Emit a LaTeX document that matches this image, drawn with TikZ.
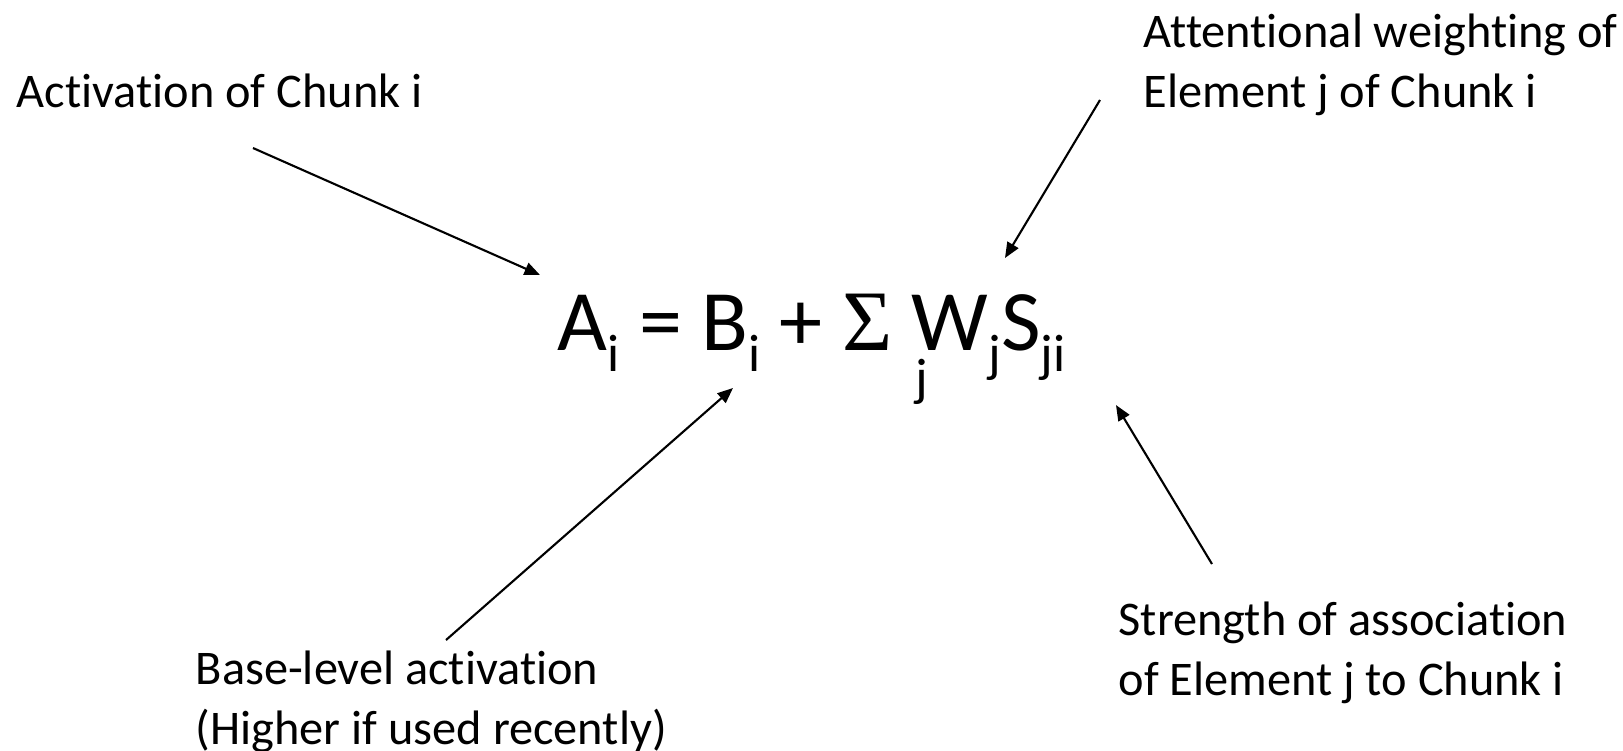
\documentclass[tikz,border=0pt]{standalone}
\usepackage{fontspec}
\setmainfont{Carlito}[Ligatures=NoCommon]
\newfontfamily\sigmafont{Liberation Serif}
\usetikzlibrary{arrows.meta}
% subscripts of the formula
\newcommand{\eqsub}[1]{\raisebox{-6pt}{\fontsize{15}{15}\selectfont #1}}
\newcommand{\eqbelow}[1]{\makebox[0pt][l]{\hspace{1.0pt}\raisebox{-13pt}{\fontsize{15}{15}\selectfont #1}}}

\begin{document}
\begin{tikzpicture}[x=0.01cm,y=-0.01cm,>={Triangle[length=4.4pt,width=3.6pt]},
  label/.style={inner sep=0pt,anchor=base west,align=left,font=\fontsize{13.75}{17}\selectfont},
  pointer/.style={->,line width=0.6pt}]
  \useasboundingbox (0,0) rectangle (1623,750);
  % formula
  \node[inner sep=0pt,anchor=base west,font=\fontsize{24.5}{29}\selectfont] (eq) at (557,350)
    {A\eqsub{i} = B\eqsub{i} + {\sigmafont Σ} \eqbelow{j}W\eqsub{j}S\eqsub{ji}};
  % labels (base = last line)
  \node[label] (act) at (16,107) {Activation of Chunk i};
  \node[label] (att) at (1143,107) {Attentional weighting of\\Element j of Chunk i};
  \node[label] (base) at (195,744) {Base-level activation\\(Higher if used recently)};
  \node[label] (str) at (1118,695) {Strength of association\\of Element j to Chunk i};
  % arrow ends
  \coordinate (actTail) at (253,148);
  \coordinate (actHead) at (540,275);
  \coordinate (attTail) at (1100,100);
  \coordinate (attHead) at (1005,258);
  \coordinate (baseTail) at (446,640);
  \coordinate (baseHead) at (733,388);
  \coordinate (strTail) at (1212,564);
  \coordinate (strHead) at (1116,405);
  \draw[pointer] (actTail) -- (actHead);
  \draw[pointer] (attTail) -- (attHead);
  \draw[pointer] (baseTail) -- (baseHead);
  \draw[pointer] (strTail) -- (strHead);
\end{tikzpicture}
\end{document}
